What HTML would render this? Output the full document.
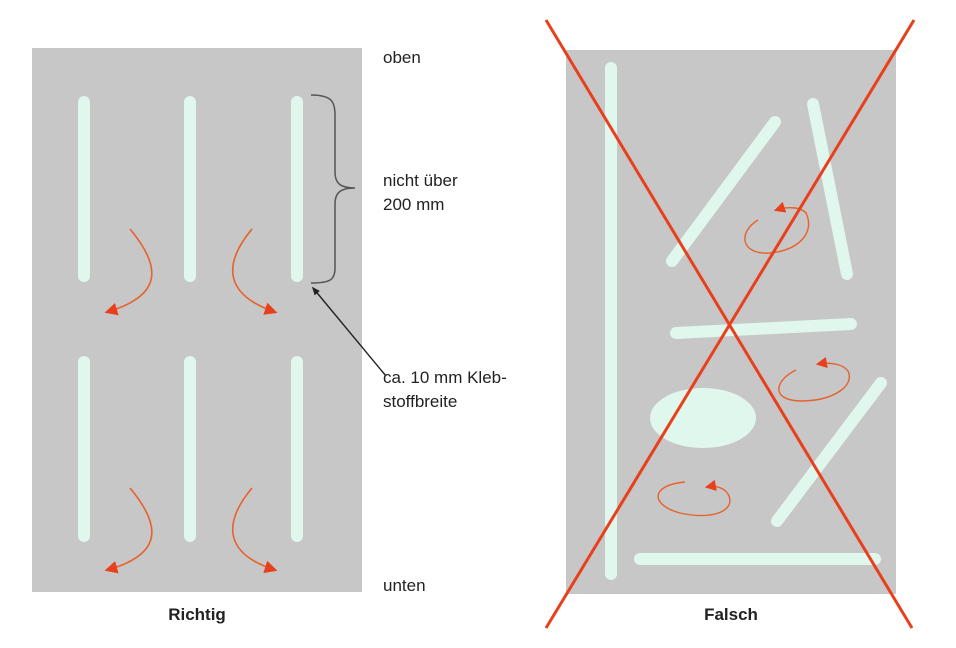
<!DOCTYPE html>
<html><head><meta charset="utf-8"><style>
html,body{margin:0;padding:0;background:#fff;}
svg{display:block;}
text{font-family:"Liberation Sans",sans-serif;fill:#222;}
</style></head><body>
<svg width="956" height="648" viewBox="0 0 956 648" xmlns="http://www.w3.org/2000/svg">
<defs>
<marker id="ra" viewBox="0 0 10 10" refX="8" refY="5" markerWidth="8" markerHeight="8" orient="auto" markerUnits="strokeWidth"><path d="M0,0 L10,5 L0,10 z" fill="#e8401c"/></marker>
<marker id="ba" viewBox="0 0 10 10" refX="8" refY="5" markerWidth="6" markerHeight="6" orient="auto"><path d="M0,1 L10,5 L0,9 z" fill="#222"/></marker>
</defs>
<rect x="32" y="48" width="330" height="544" fill="#c6c7c6"/>
<g stroke="#e0f7ee" stroke-width="12" stroke-linecap="round">
<line x1="84" y1="102" x2="84" y2="276"/>
<line x1="190" y1="102" x2="190" y2="276"/>
<line x1="297" y1="102" x2="297" y2="276"/>
<line x1="84" y1="362" x2="84" y2="536"/>
<line x1="190" y1="362" x2="190" y2="536"/>
<line x1="297" y1="362" x2="297" y2="536"/>
</g>
<g fill="none" stroke="#e8602c" stroke-width="1.6" marker-end="url(#ra)">
<path d="M130,229 C160,265 165,295 107,312"/>
<path d="M252,229 C222,265 225,295 275,312"/>
<path d="M130,488 C160,524 165,554 107,570"/>
<path d="M252,488 C222,524 225,554 275,570"/>
</g>
<path d="M311,95 C332,95 335,102 335,115 L335,172 C335,183 340,188 355,188 C340,188 335,193 335,204 L335,268 C335,280 330,283 311,283" fill="none" stroke="#555" stroke-width="1.5"/>
<line x1="386" y1="376" x2="313" y2="288" stroke="#222" stroke-width="1.4" marker-end="url(#ba)"/>
<text x="383" y="63" font-size="17">oben</text>
<text x="383" y="186" font-size="17">nicht über</text>
<text x="383" y="210" font-size="17">200 mm</text>
<text x="383" y="383" font-size="17">ca. 10 mm Kleb-</text>
<text x="383" y="407" font-size="17">stoffbreite</text>
<text x="383" y="591" font-size="17">unten</text>
<text x="197" y="620" font-size="17" font-weight="bold" text-anchor="middle">Richtig</text>
<rect x="566" y="50" width="330" height="544" fill="#c6c7c6"/>
<g stroke="#e0f7ee" stroke-width="12" stroke-linecap="round">
<line x1="611" y1="68" x2="611" y2="574"/>
<line x1="672" y1="261" x2="775" y2="122"/>
<line x1="813" y1="104" x2="847" y2="274"/>
<line x1="676" y1="333" x2="851" y2="324"/>
<line x1="881" y1="383" x2="777" y2="521"/>
<line x1="640" y1="559" x2="875" y2="559"/>
</g>
<ellipse cx="703" cy="418" rx="53" ry="30" fill="#e0f7ee"/>
<g fill="none" stroke="#e8602c" stroke-width="1.4" marker-end="url(#ra)">
<path d="M758,220 C738,232 740,255 770,253 C800,250 815,232 806,213 C800,206 785,207 776,210"/>
<path d="M796,370 C775,380 770,400 800,401 C835,401 855,385 848,371 C843,364 830,362 818,364"/>
<path d="M685,482 C650,485 650,505 680,513 C710,520 735,512 729,496 C726,489 718,485 707,487"/>
</g>
<g stroke="#e8401c" stroke-width="3">
<line x1="546" y1="20" x2="912" y2="628"/>
<line x1="914" y1="20" x2="546" y2="628"/>
</g>
<text x="731" y="620" font-size="17" font-weight="bold" text-anchor="middle">Falsch</text>
</svg>
</body></html>
